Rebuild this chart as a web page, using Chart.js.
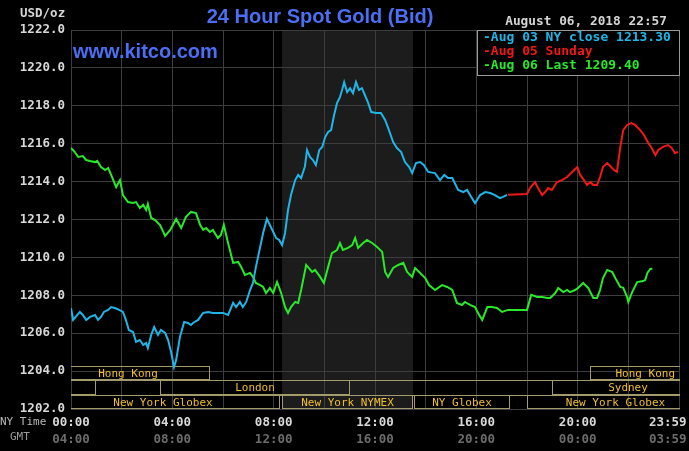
<!DOCTYPE html>
<html><head><meta charset="utf-8">
<script src="https://cdn.jsdelivr.net/npm/chart.js@4/dist/chart.umd.min.js"></script>
<style>html,body{margin:0;padding:0;background:#000;overflow:hidden}#wrap{width:689px;height:451px}</style>
</head><body><div id="wrap"><canvas id="c" width="689" height="451"></canvas></div>
<script>
// ---- data (x = minutes after 00:00 NY time, y = USD/oz) ----
const aug03NyClose = [[0,1207.33],[5,1206.70],[21,1207.12],[28,1206.96],[36,1206.70],[45,1206.86],[57,1206.96],[64,1206.70],[71,1206.86],[78,1207.12],[88,1207.23],[95,1207.38],[104,1207.33],[114,1207.23],[123,1207.12],[130,1206.70],[137,1206.17],[147,1206.06],[154,1205.54],[163,1205.64],[171,1205.38],[178,1205.48],[182,1205.22],[190,1205.91],[197,1206.33],[206,1205.91],[213,1206.17],[223,1206.01],[230,1205.64],[237,1205.01],[244,1204.21],[249,1204.58],[258,1205.80],[268,1206.59],[277,1206.54],[284,1206.43],[289,1206.54],[301,1206.70],[313,1207.07],[325,1207.12],[336,1207.07],[348,1207.07],[360,1207.07],[372,1206.96],[384,1207.60],[391,1207.38],[400,1207.65],[407,1207.38],[415,1207.65],[424,1208.28],[431,1208.65],[438,1209.50],[448,1210.55],[455,1211.29],[464,1212.03],[471,1211.71],[479,1211.34],[486,1211.02],[493,1210.92],[500,1210.65],[507,1211.29],[514,1212.50],[521,1213.29],[531,1214.08],[538,1214.35],[545,1214.19],[554,1214.80],[559,1215.67],[566,1215.30],[573,1215.14],[580,1214.87],[588,1215.67],[595,1215.83],[602,1216.35],[609,1216.62],[616,1216.72],[623,1217.50],[630,1218.14],[637,1218.46],[642,1218.83],[647,1219.25],[654,1218.72],[661,1218.93],[668,1218.67],[675,1219.25],[682,1218.83],[689,1218.93],[696,1218.57],[704,1218.14],[711,1217.67],[723,1217.62],[734,1217.62],[744,1217.25],[753,1216.72],[763,1216.09],[772,1215.77],[782,1215.56],[791,1215.03],[801,1214.77],[808,1214.45],[817,1214.98],[827,1215.03],[836,1214.87],[846,1214.51],[862,1214.45],[874,1214.08],[884,1214.35],[893,1214.19],[903,1214.19],[917,1213.56],[929,1213.45],[938,1213.56],[948,1213.19],[957,1212.87],[969,1213.29],[981,1213.45],[993,1213.40],[1004,1213.29],[1016,1213.13],[1023,1213.19],[1033,1213.30]];
const aug05Sunday = [[1035,1213.30],[1080,1213.35],[1087,1213.66],[1099,1213.98],[1106,1213.66],[1116,1213.29],[1123,1213.45],[1130,1213.66],[1139,1213.56],[1151,1213.98],[1163,1214.08],[1175,1214.24],[1187,1214.51],[1199,1214.77],[1206,1214.35],[1215,1214.08],[1222,1213.82],[1230,1213.98],[1237,1213.82],[1246,1213.82],[1253,1214.24],[1260,1214.77],[1270,1214.98],[1277,1214.82],[1286,1214.61],[1293,1214.51],[1301,1215.83],[1308,1216.72],[1317,1216.99],[1327,1217.09],[1336,1216.99],[1348,1216.72],[1357,1216.46],[1367,1216.04],[1374,1215.83],[1384,1215.40],[1391,1215.67],[1402,1215.83],[1414,1215.93],[1423,1215.77],[1430,1215.51],[1438,1215.56]];
const aug06Last = [[0,1215.77],[9,1215.56],[17,1215.30],[28,1215.35],[36,1215.14],[45,1215.09],[57,1215.03],[62,1215.09],[71,1214.77],[81,1214.61],[88,1214.72],[95,1214.35],[107,1213.71],[116,1214.08],[123,1213.29],[135,1212.92],[147,1212.87],[154,1212.92],[163,1212.61],[171,1212.77],[178,1212.50],[182,1212.82],[190,1212.08],[199,1211.97],[211,1211.71],[223,1211.13],[235,1211.45],[249,1212.03],[261,1211.55],[272,1212.13],[284,1212.40],[296,1212.34],[306,1211.71],[313,1211.45],[320,1211.55],[329,1211.34],[336,1211.45],[348,1211.02],[355,1211.18],[362,1211.71],[372,1210.76],[384,1209.71],[396,1209.76],[403,1209.50],[412,1209.07],[424,1209.18],[431,1208.97],[438,1208.65],[448,1208.54],[455,1208.44],[462,1208.12],[471,1208.39],[479,1208.12],[488,1208.70],[497,1208.17],[507,1207.38],[514,1207.07],[521,1207.38],[531,1207.65],[538,1207.60],[545,1208.28],[557,1209.60],[571,1209.23],[578,1209.34],[590,1208.97],[599,1208.65],[609,1209.50],[618,1210.23],[630,1210.39],[637,1210.76],[644,1210.39],[656,1210.50],[666,1210.65],[673,1211.02],[680,1210.50],[692,1210.76],[701,1210.92],[713,1210.76],[725,1210.55],[737,1210.29],[744,1209.23],[751,1208.97],[763,1209.44],[775,1209.60],[787,1209.71],[796,1209.23],[808,1208.97],[815,1209.44],[827,1209.18],[839,1208.91],[848,1208.54],[862,1208.28],[879,1208.54],[891,1208.44],[903,1208.28],[914,1207.60],[926,1207.49],[933,1207.65],[945,1207.49],[957,1207.38],[964,1207.07],[974,1206.70],[986,1207.38],[997,1207.38],[1009,1207.33],[1021,1207.12],[1035,1207.23],[1080,1207.23],[1090,1208.02],[1104,1207.91],[1116,1207.91],[1128,1207.86],[1135,1207.86],[1147,1208.12],[1154,1208.39],[1166,1208.17],[1175,1208.28],[1182,1208.17],[1194,1208.28],[1201,1208.39],[1213,1208.65],[1225,1208.39],[1237,1207.86],[1246,1207.86],[1253,1208.28],[1260,1208.91],[1270,1209.34],[1282,1209.23],[1289,1208.91],[1301,1208.44],[1308,1208.39],[1317,1207.91],[1320,1207.65],[1329,1208.17],[1341,1208.70],[1355,1208.75],[1360,1208.81],[1365,1209.18],[1372,1209.39],[1377,1209.40]];
const seriesLabels = ['Aug 03 NY close 1213.30', 'Aug 05 Sunday', 'Aug 06 Last 1209.40'];
const nyTimeLabels = ['00:00','04:00','08:00','12:00','16:00','20:00','23:59'];
const gmtTimeLabels = ['04:00','08:00','12:00','16:00','20:00','00:00','03:59'];
const priceMin = 1202, priceMax = 1222, priceStep = 2;
const nymexShade = [500, 810];
// sessions: [name, row, start minute, end minute]
const sessions = [
  ['Hong Kong', 0, -60, 330],
  ['Hong Kong', 0, 1230, 1500],
  ['', 1, -60, 60],
  ['London', 1, 210, 660],
  ['Sydney', 1, 1140, 1500],
  ['New York Globex', 2, -60, 495],
  ['New York NYMEX', 2, 500, 810],
  ['NY Globex', 2, 812, 1040],
  ['New York Globex', 2, 1080, 1500]
];
const titleText = '24 Hour Spot Gold (Bid)';
const siteText = 'www.kitco.com';
const unitText = 'USD/oz';
const stampText = 'August 06, 2018 22:57';

const COLORS = ['#1fb5e6', '#f01818', '#2ae82a'];
const MONO = 'bold 12.5px "DejaVu Sans Mono", monospace';
const GRID = '#3d3d3d';

const toXY = arr => arr.map(p => ({x: p[0], y: p[1]}));
// last label sits inside the right edge: pad it so its centre shifts left
const tickText = (labels, v) => {
  if (v % 240 !== 0) return '';
  const i = v / 240;
  return i === labels.length - 1 ? labels[i] + '   ' : labels[i];
};

const decor = {
  id: 'decor',
  beforeDraw(chart) {
    const {ctx, chartArea: a, scales: {x}} = chart;
    ctx.save();
    ctx.fillStyle = '#000';
    ctx.fillRect(0, 0, chart.width, chart.height);
    const s0 = x.getPixelForValue(nymexShade[0]), s1 = x.getPixelForValue(nymexShade[1]);
    ctx.fillStyle = '#1b1c1b';
    ctx.fillRect(s0, a.top, s1 - s0, a.bottom - a.top);
    ctx.restore();
  },
  beforeDatasetsDraw(chart) {
    const {ctx, chartArea: a, scales: {x}} = chart;
    const rowH = 14.4;
    ctx.save();
    ctx.beginPath();
    ctx.rect(a.left, 0, a.right - a.left + 1, chart.height);
    ctx.clip();
    ctx.strokeStyle = '#a39b6c';
    ctx.lineWidth = 1;
    for (let r = 1; r <= 2; r++) {
      const yy = Math.round(a.bottom - rowH * r) + 0.5;
      ctx.beginPath(); ctx.moveTo(a.left, yy); ctx.lineTo(a.right, yy); ctx.stroke();
    }
    ctx.font = '11px "DejaVu Sans Mono", monospace';
    ctx.textAlign = 'center';
    ctx.textBaseline = 'middle';
    sessions.forEach(([name, row, st, en]) => {
      const top = Math.round(a.bottom - rowH * (3 - row)) + 0.5;
      const bot = Math.round(a.bottom - rowH * (2 - row)) - 0.5;
      const x0 = Math.round(x.getPixelForValue(st)) + 0.5;
      const x1 = Math.round(x.getPixelForValue(en)) - 0.5;
      ctx.strokeStyle = '#a39b6c';
      ctx.strokeRect(x0, top, x1 - x0, bot - top);
      if (name) {
        let cx = (x0 + x1) / 2;
        const w = ctx.measureText(name).width;
        cx = Math.min(Math.max(cx, Math.max(x0, a.left) + w / 2 + 4), Math.min(x1, a.right) - w / 2 - 4);
        ctx.fillStyle = '#f0bf2c';
        ctx.fillText(name, cx, (top + bot) / 2 + 1);
      }
    });
    ctx.restore();
  },
  afterDraw(chart) {
    const {ctx, chartArea: a} = chart;
    ctx.save();
    ctx.font = MONO; ctx.fillStyle = '#d4d4d4';
    ctx.textAlign = 'left'; ctx.textBaseline = 'middle';
    ctx.fillText(unitText, 20, 14);
    ctx.font = 'bold 20px "Liberation Sans", Arial, sans-serif';
    ctx.fillStyle = '#4b6ef2';
    ctx.textAlign = 'center';
    ctx.fillText(titleText, 320, 17);
    ctx.textAlign = 'left';
    ctx.fillText(siteText, 73, 52);
    ctx.font = 'bold 12.8px "DejaVu Sans Mono", monospace';
    ctx.fillStyle = '#d4d4d4';
    ctx.textAlign = 'right';
    ctx.fillText(stampText, 667, 22);
    const lx = 477.5, ly = a.top + 0.5, lw = a.right - 477, lh = 45;
    ctx.fillStyle = '#000';
    ctx.fillRect(lx, ly, lw, lh);
    ctx.strokeStyle = '#9a9a9a'; ctx.lineWidth = 1;
    ctx.strokeRect(lx, ly, lw, lh);
    ctx.font = 'bold 13px "DejaVu Sans Mono", monospace';
    ctx.textAlign = 'left';
    seriesLabels.forEach((t, i) => {
      ctx.fillStyle = COLORS[i];
      ctx.fillText('-' + t, 483, ly + 7 + i * 14);
    });
    ctx.font = '11px "DejaVu Sans Mono", monospace';
    ctx.fillStyle = '#b8b8b8';
    ctx.fillText('NY Time', 0, 422);
    ctx.fillStyle = '#9a9a9a';
    ctx.fillText('GMT', 10, 437);
    ctx.restore();
  }
};

const evenTicks = scale => {
  const t = [];
  for (let v = 0; v <= 1440; v += 120) t.push({value: v});
  scale.ticks = t;
};

new Chart(document.getElementById('c'), {
  type: 'line',
  data: {
    datasets: [
      {label: seriesLabels[0], data: toXY(aug03NyClose), borderColor: COLORS[0]},
      {label: seriesLabels[1], data: toXY(aug05Sunday), borderColor: COLORS[1]},
      {label: seriesLabels[2], data: toXY(aug06Last), borderColor: COLORS[2]}
    ]
  },
  options: {
    responsive: false,
    animation: false,
    devicePixelRatio: 1,
    elements: {
      line: {borderWidth: 2, tension: 0, fill: false},
      point: {radius: 0, hoverRadius: 0}
    },
    layout: {padding: {top: 30, right: 10, left: 0, bottom: 4}},
    plugins: {legend: {display: false}, title: {display: false}, tooltip: {enabled: false}},
    scales: {
      x: {
        type: 'linear', position: 'bottom', min: 0, max: 1440,
        afterBuildTicks: evenTicks,
        afterFit: s => { s.height = 22; s.paddingLeft = 0; s.paddingRight = 0; },
        grid: {color: GRID, drawTicks: false, lineWidth: 1},
        border: {display: true, color: GRID},
        ticks: {
          autoSkip: false, maxRotation: 0, padding: 6,
          color: '#d8d8d8', font: {family: '"DejaVu Sans Mono", monospace', size: 12.5, weight: 'bold'},
          callback: v => tickText(nyTimeLabels, v)
        }
      },
      x2: {
        type: 'linear', position: 'bottom', min: 0, max: 1440, display: true,
        afterBuildTicks: evenTicks,
        afterFit: s => { s.height = 16; s.paddingLeft = 0; s.paddingRight = 0; },
        grid: {display: false, drawTicks: false},
        border: {display: false},
        ticks: {
          autoSkip: false, maxRotation: 0, padding: 1,
          color: '#6c6c6c', font: {family: '"DejaVu Sans Mono", monospace', size: 12.5, weight: 'bold'},
          callback: v => tickText(gmtTimeLabels, v)
        }
      },
      y: {
        type: 'linear', min: priceMin, max: priceMax,
        afterFit: s => { s.width = 71; },
        grid: {color: GRID, drawTicks: false, lineWidth: 1},
        border: {display: true, color: GRID},
        ticks: {
          stepSize: priceStep, padding: 6,
          color: '#d8d8d8', font: {family: '"DejaVu Sans Mono", monospace', size: 12.5, weight: 'bold'},
          callback: v => v.toFixed(1)
        }
      }
    }
  },
  plugins: [decor]
});
</script>
</body></html>
